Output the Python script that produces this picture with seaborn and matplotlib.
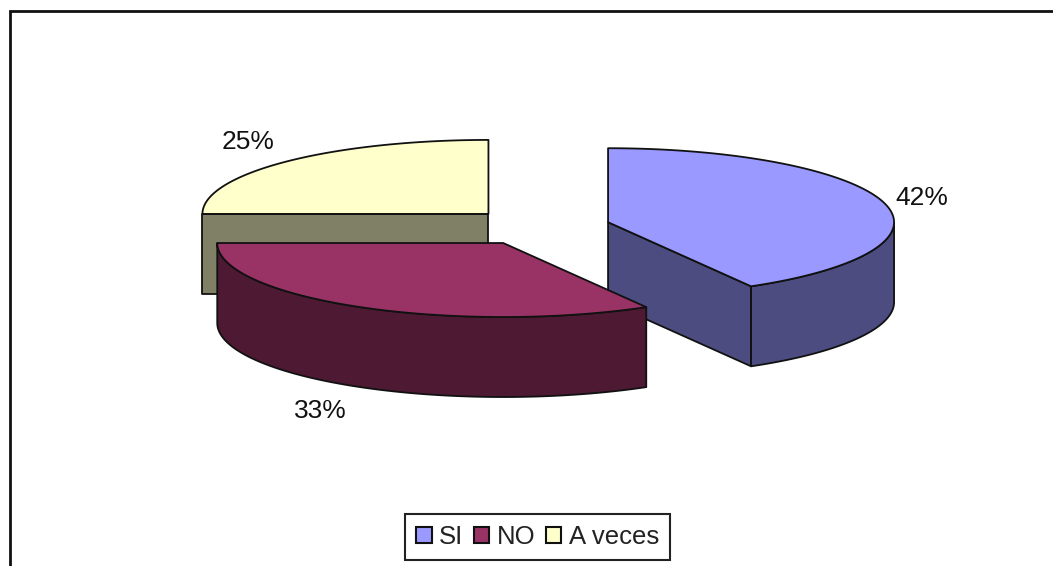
import numpy as np
import matplotlib
matplotlib.use("Agg")
import matplotlib.pyplot as plt
from matplotlib.patches import Patch
import seaborn as sns

categories = ["SI", "NO", "A veces"]
counts = [5, 4, 3]
top_colors = ["#9999FF", "#993366", "#FFFFCC"]
side_colors = ["#4C4C80", "#4D1933", "#808066"]
label_pos = [(922, 198), (320, 411), (248, 142)]

# pie geometry in image pixels
cx, cy = 539, 227
rx, ry = 286, 74
depth = 80
explode = 0.25
edge = "#111111"

sns.set_theme(style="white")
plt.rcParams["font.family"] = ["Liberation Sans", "DejaVu Sans"]

fig = plt.figure(figsize=(10.53, 5.66), dpi=100)
ax = fig.add_axes([0, 0, 1, 1])
ax.set_xlim(0, 1053)
ax.set_ylim(566, 0)
ax.axis("off")

shares = np.array(counts) / sum(counts)
ends = np.cumsum(shares) * 360
starts = ends - shares * 360


def rim(x0, y0, a, b):
    t = np.radians(np.linspace(a, b, 120))
    return x0 + rx * np.sin(t), y0 - ry * np.cos(t)


def draw_slice(i, z):
    a, b = starts[i], ends[i]
    mid = np.radians((a + b) / 2)
    x0 = cx + explode * rx * np.sin(mid)
    y0 = cy - explode * ry * np.cos(mid)
    style = dict(edgecolor=edge, linewidth=1.3, joinstyle="round", zorder=z)

    # flat cut faces, only the ones turned to the viewer
    visible = []
    if np.sin(np.radians(a)) < -1e-6:
        visible.append(a)
    if np.sin(np.radians(b)) > 1e-6:
        visible.append(b)
    for ang in visible:
        xr = x0 + rx * np.sin(np.radians(ang))
        yr = y0 - ry * np.cos(np.radians(ang))
        ax.fill([x0, xr, xr, x0], [y0, yr, yr + depth, y0 + depth], facecolor=side_colors[i], **style)

    # outer wall, only the front half of the ellipse shows
    lo, hi = max(a, 90), min(b, 270)
    if lo < hi:
        xs, ys = rim(x0, y0, lo, hi)
        ax.fill(np.r_[xs, xs[::-1]], np.r_[ys, ys[::-1] + depth], facecolor=side_colors[i], **style)

    xs, ys = rim(x0, y0, a, b)
    ax.fill(np.r_[x0, xs], np.r_[y0, ys], facecolor=top_colors[i], **style)


# back slice first, NO sits in front of the others
draw_slice(2, 2)
draw_slice(0, 3)
draw_slice(1, 4)

for i, (x, y) in enumerate(label_pos):
    ax.text(x, y, f"{shares[i] * 100:.0f}%", ha="center", va="center", fontsize=19, color="#111111", zorder=6)

# chart frame runs off the right and bottom of the picture
ax.plot([10, 10, 1053], [566, 11, 11], color="#111111", lw=2, solid_joinstyle="miter", zorder=1)

handles = [Patch(facecolor=c, edgecolor="#111111", linewidth=1.5) for c in top_colors]
leg = ax.legend(handles, categories, ncol=3, loc="center", bbox_to_anchor=(537.5, 537),
                bbox_transform=ax.transData, fontsize=18.5, frameon=True, fancybox=False,
                edgecolor="#222222", framealpha=1, handlelength=0.6, handleheight=0.6,
                handletextpad=0.28, columnspacing=0.42, borderpad=0.42, borderaxespad=0,
                labelcolor="#222222")
leg.get_frame().set_linewidth(1.5)
leg.set_zorder(7)

plt.savefig("out.png", dpi=100)
